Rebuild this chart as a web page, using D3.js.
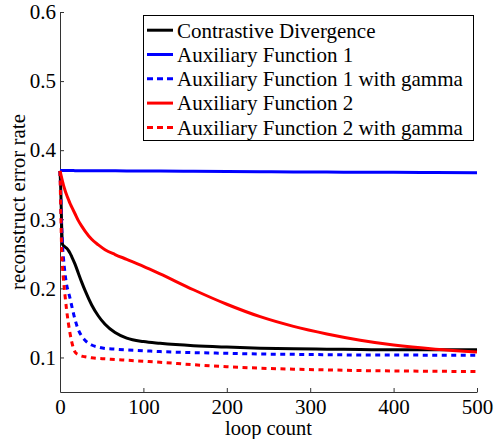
<!DOCTYPE html>
<html>
<head>
<meta charset="utf-8">
<script src="https://cdn.jsdelivr.net/npm/d3@7"></script>
<style>
  body { margin: 0; background: #fff; }
  text { font-family: "Liberation Serif", "DejaVu Serif", serif; }
</style>
</head>
<body>
<div class="container_graph"></div>
<script>
// datos
const loops = [0, 1, 2, 3, 4, 6, 8, 10, 12, 14, 18, 22, 26, 30, 38, 46, 54, 66, 80, 100, 120, 160, 200, 240, 280, 320, 360, 400, 450, 500];

const contrastive = [0.370, 0.340, 0.290, 0.264, 0.262, 0.260, 0.258, 0.255, 0.251, 0.246, 0.235, 0.222, 0.209, 0.197, 0.176, 0.160, 0.148, 0.136, 0.128, 0.123, 0.1205, 0.117, 0.115, 0.1135, 0.1125, 0.112, 0.1115, 0.111, 0.111, 0.111];
const aux1 = [0.3705, 0.3705, 0.3705, 0.3705, 0.3705, 0.3705, 0.3705, 0.3705, 0.3705, 0.3705, 0.3704, 0.3704, 0.3704, 0.3704, 0.3703, 0.3703, 0.3702, 0.3701, 0.3700, 0.3699, 0.3697, 0.3694, 0.3691, 0.3688, 0.3685, 0.3683, 0.3681, 0.3679, 0.3677, 0.3675];
const aux1Gamma = [0.370, 0.330, 0.290, 0.262, 0.246, 0.222, 0.205, 0.195, 0.186, 0.175, 0.155, 0.140, 0.131, 0.125, 0.118, 0.115, 0.113, 0.112, 0.111, 0.1098, 0.1085, 0.107, 0.106, 0.105, 0.1045, 0.104, 0.1036, 0.1035, 0.1033, 0.103];
const aux2 = [0.370, 0.365, 0.360, 0.355, 0.350, 0.342, 0.335, 0.329, 0.323, 0.318, 0.308, 0.298, 0.290, 0.283, 0.271, 0.263, 0.256, 0.249, 0.242, 0.232, 0.221, 0.198, 0.177, 0.159, 0.145, 0.134, 0.125, 0.118, 0.112, 0.108];
const aux2Gamma = [0.370, 0.310, 0.255, 0.232, 0.215, 0.190, 0.168, 0.150, 0.135, 0.123, 0.108, 0.104, 0.102, 0.101, 0.0995, 0.0985, 0.098, 0.097, 0.096, 0.0945, 0.093, 0.0895, 0.0865, 0.0845, 0.083, 0.082, 0.081, 0.0805, 0.080, 0.0795];

const seriesNames = ["Contrastive Divergence", "Auxiliary Function 1", "Auxiliary Function 1 with gamma", "Auxiliary Function 2", "Auxiliary Function 2 with gamma"];
const xTicks = [0, 100, 200, 300, 400, 500];
const yTicks = [0.1, 0.2, 0.3, 0.4, 0.5, 0.6];

// medidas
const width = 494;
const height = 439;
const margin = { top: 12, right: 17, bottom: 47, left: 60 };
const serif = '"Liberation Serif", "DejaVu Serif", serif';

const series = [
  { name: seriesNames[0], values: contrastive, color: "#000000", dash: null },
  { name: seriesNames[1], values: aux1, color: "#0000ff", dash: null },
  { name: seriesNames[2], values: aux1Gamma, color: "#0000ff", dash: "5,4.5" },
  { name: seriesNames[3], values: aux2, color: "#ff0000", dash: null },
  { name: seriesNames[4], values: aux2Gamma, color: "#ff0000", dash: "5,4.5" },
];

const svg = d3
  .select(".container_graph")
  .append("svg")
  .attr("width", width)
  .attr("height", height)
  .style("display", "block");

const x = d3.scaleLinear().domain([0, 500]).range([margin.left, width - margin.right]);
const y = d3.scaleLinear().domain([0.05, 0.6]).range([height - margin.bottom, margin.top]);

// ejes con ticks hacia dentro (estilo matlab)
const xAxis = svg
  .append("g")
  .attr("transform", `translate(0,${height - margin.bottom})`)
  .call(d3.axisBottom(x).tickValues(xTicks).tickFormat(d3.format("d")).tickSizeInner(-4).tickSizeOuter(0).tickPadding(7));

const yAxis = svg
  .append("g")
  .attr("transform", `translate(${margin.left},0)`)
  .call(d3.axisLeft(y).tickValues(yTicks).tickFormat(d3.format(".1f")).tickSizeInner(-4).tickSizeOuter(0).tickPadding(4));

[xAxis, yAxis].forEach((a) => {
  a.attr("font-family", serif).attr("font-size", 21);
  a.selectAll("path, line").attr("stroke", "#333");
  a.selectAll("text").attr("fill", "#000").style("font-family", serif).style("font-size", "21px");
});

// lineas
const line = d3
  .line()
  .x((d, i) => x(loops[i]))
  .y((d) => y(d))
  .curve(d3.curveMonotoneX);

svg
  .append("g")
  .selectAll("path")
  .data(series)
  .join("path")
  .attr("d", (d) => line(d.values))
  .attr("fill", "none")
  .attr("stroke", (d) => d.color)
  .attr("stroke-width", 3)
  .attr("stroke-dasharray", (d) => d.dash);

// titulos de ejes
svg
  .append("text")
  .attr("x", (x(0) + x(500)) / 2)
  .attr("y", 435)
  .attr("text-anchor", "middle")
  .style("font-size", "20.5px")
  .text("loop count");

svg
  .append("text")
  .attr("transform", `translate(25,${(y(0.05) + y(0.6)) / 2}) rotate(-90)`)
  .attr("text-anchor", "middle")
  .style("font-size", "21px")
  .text("reconstruct error rate");

// leyenda
const legend = svg.append("g").attr("id", "legend");

legend
  .append("rect")
  .attr("x", 143.5)
  .attr("y", 15.5)
  .attr("width", 330)
  .attr("height", 125)
  .attr("fill", "#fff")
  .attr("stroke", "#000")
  .attr("stroke-width", 1);

const items = legend
  .selectAll("g.item")
  .data(series)
  .join("g")
  .attr("class", "item")
  .attr("transform", (d, i) => `translate(0,${30.2 + i * 24.3})`);

items
  .append("line")
  .attr("x1", 147)
  .attr("x2", 173)
  .attr("stroke", (d) => d.color)
  .attr("stroke-width", 3)
  .attr("stroke-dasharray", (d) => (d.dash ? "6,4" : null));

items
  .append("text")
  .attr("x", 177)
  .attr("dy", "0.35em")
  .style("font-size", "21px")
  .text((d) => d.name);
</script>
</body>
</html>
